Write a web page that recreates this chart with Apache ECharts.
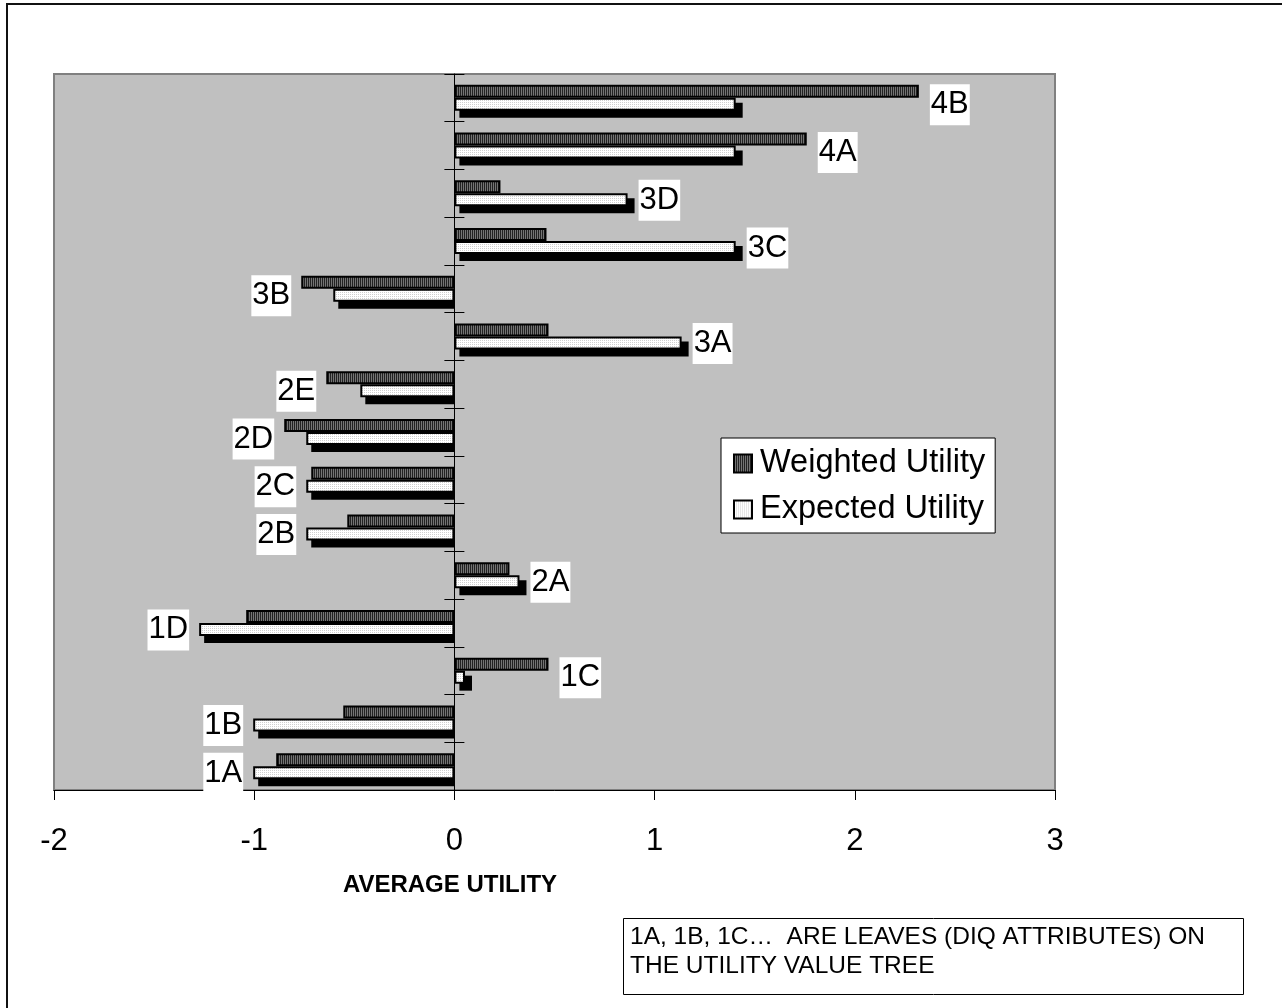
<!DOCTYPE html>
<html><head><meta charset="utf-8">
<script src="https://cdn.jsdelivr.net/npm/echarts@6/dist/echarts.min.js"></script>
<style>html,body{margin:0;padding:0;background:#fff}#c{width:1282px;height:1008px}</style>
</head><body><div id="c"></div>
<script>
// ---- data ----
const categories = ['1A','1B','1C','1D','2A','2B','2C','2D','2E','3A','3B','3C','3D','4A','4B'];
const weightedUtility = [-0.89, -0.555, 0.47, -1.04, 0.275, -0.535, -0.715, -0.85, -0.64, 0.47, -0.765, 0.46, 0.23, 1.76, 2.32];
const expectedUtility = [-1.005, -1.005, 0.053, -1.275, 0.325, -0.74, -0.74, -0.74, -0.47, 1.135, -0.605, 1.405, 0.865, 1.405, 1.405];
const seriesNames = ['Weighted Utility', 'Expected Utility'];
const xTickValues = [-2, -1, 0, 1, 2, 3];
const axisTitle = 'AVERAGE UTILITY';
const noteLines = ['1A, 1B, 1C\u2026  ARE LEAVES (DIQ ATTRIBUTES) ON', 'THE UTILITY VALUE TREE'];

const FONT = "'Liberation Sans', Arial, sans-serif";
const GRID = { left: 54, right: 227, top: 74, bottom: 218 };
const W = 1282;
const xMin = xTickValues[0], xMax = xTickValues[xTickValues.length - 1];
const plotW = W - GRID.left - GRID.right;
// second (tick-only) category axis is moved from the right edge onto value 0
const zeroOffset = -plotW * (xMax - 0) / (xMax - xMin);

function makePattern(w, h, draw) {
  const c = document.createElement('canvas');
  c.width = w; c.height = h;
  draw(c.getContext('2d'));
  return { image: c, repeat: 'repeat' };
}
const stripePattern = makePattern(2, 1, g => {
  g.fillStyle = '#747474'; g.fillRect(0, 0, 2, 1);
  g.fillStyle = '#222222'; g.fillRect(0, 0, 1, 1);
});
const dotPattern = makePattern(2, 2, g => {
  g.fillStyle = '#ffffff'; g.fillRect(0, 0, 2, 2);
  g.fillStyle = '#d0d0d0'; g.fillRect(0, 0, 1, 1);
});

const labelPoints = categories.map((name, i) => {
  const w = weightedUtility[i], e = expectedUtility[i];
  const positive = (w + e) >= 0;
  return {
    name: name,
    value: [positive ? Math.max(w, e) : Math.min(w, e), i],
    label: { position: positive ? 'right' : 'left', distance: positive ? 11 : 10 }
  };
});

const chart = echarts.init(document.getElementById('c'), null, { renderer: 'canvas' });
chart.setOption({
  animation: false,
  backgroundColor: '#ffffff',
  grid: {
    left: GRID.left, right: GRID.right, top: GRID.top, bottom: GRID.bottom,
    show: true, backgroundColor: '#c0c0c0', borderColor: '#808080', borderWidth: 2,
    containLabel: false, outerBoundsMode: 'none'
  },
  legend: {
    data: seriesNames.map((n, k) => ({
      name: n,
      itemStyle: { color: k === 0 ? stripePattern : dotPattern, borderColor: '#000', borderWidth: 2 }
    })),
    orient: 'vertical', left: 721, top: 438,
    itemWidth: 18, itemHeight: 18, itemGap: 13,
    padding: [9, 10, 7, 12],
    backgroundColor: '#fff', borderColor: '#000', borderWidth: 1, borderRadius: 0,
    icon: 'rect', selectedMode: false,
    textStyle: { fontSize: 32.5, fontFamily: FONT, color: '#000', padding: [0, 0, 0, 3] }
  },
  xAxis: {
    type: 'value', min: xMin, max: xMax, interval: 1,
    position: 'bottom',
    axisLine: { show: true, onZero: false, lineStyle: { color: '#000', width: 1 } },
    axisTick: { show: true, length: 10, lineStyle: { color: '#000', width: 1 } },
    axisLabel: { fontSize: 31, color: '#000', margin: 36, fontFamily: FONT },
    splitLine: { show: false }
  },
  yAxis: [{
    type: 'category', data: categories,
    axisLine: { show: true, onZero: true, lineStyle: { color: '#000', width: 1 } },
    axisTick: { show: true, length: 10, lineStyle: { color: '#000', width: 1 } },
    axisLabel: { show: false }, splitLine: { show: false }
  }, {
    type: 'category', data: categories, position: 'right', offset: zeroOffset,
    axisLine: { show: false, onZero: false },
    axisTick: { show: true, length: 10, lineStyle: { color: '#000', width: 1 } },
    axisLabel: { show: false }, splitLine: { show: false }
  }],
  series: [
    {
      name: seriesNames[0], type: 'bar', data: weightedUtility,
      barWidth: 13, barGap: '0%', z: 2,
      itemStyle: { color: stripePattern, borderColor: '#000', borderWidth: 2 }
    },
    {
      name: 'shadow', type: 'custom', z: 2, silent: true,
      data: expectedUtility.map((v, i) => [v, i]),
      encode: { x: 0, y: 1 },
      renderItem: function (params, api) {
        const v = api.value(0), i = api.value(1);
        const p0 = api.coord([0, i]), p1 = api.coord([v, i]);
        const c = p0[1];
        let xa, xb;
        if (v >= 0) { xa = p0[0] + 5; xb = p1[0] + 7; }
        else { xa = p1[0] + 5; xb = p0[0]; }
        return {
          type: 'rect',
          shape: { x: xa, y: c + 5, width: Math.max(0, xb - xa), height: 15 },
          style: { fill: '#000' }
        };
      }
    },
    {
      name: seriesNames[1], type: 'bar', data: expectedUtility,
      barWidth: 13, barGap: '0%', z: 3,
      itemStyle: { color: dotPattern, borderColor: '#000', borderWidth: 2 }
    },
    {
      name: 'labels', type: 'scatter', data: labelPoints, z: 5, silent: true,
      symbolSize: 0, itemStyle: { color: 'transparent', opacity: 1 },
      label: {
        show: true, formatter: p => p.name, opacity: 1,
        fontSize: 31, fontFamily: FONT, color: '#000',
        backgroundColor: '#ffffff', padding: [5, 1, 5, 1], offset: [0, 7]
      }
    }
  ],
  graphic: [
    { type: 'rect', z: 100, silent: true,
      shape: { x: 7, y: 4, width: 1290, height: 1020 },
      style: { fill: 'none', stroke: '#111', lineWidth: 2 } },
    { type: 'text', z: 100, silent: true, x: 450, y: 885,
      style: { text: axisTitle, font: "bold 24px " + FONT, fill: '#000', textAlign: 'center', textVerticalAlign: 'middle' } },
    { type: 'rect', z: 100, silent: true,
      shape: { x: 623.5, y: 918.5, width: 620, height: 76 },
      style: { fill: '#fff', stroke: '#000', lineWidth: 1 } },
    { type: 'text', z: 101, silent: true, x: 630, y: 923,
      style: { text: noteLines.join('\n'), font: "24.5px " + FONT, lineHeight: 29, fill: '#000', textAlign: 'left', textVerticalAlign: 'top' } }
  ]
});
</script></body></html>
